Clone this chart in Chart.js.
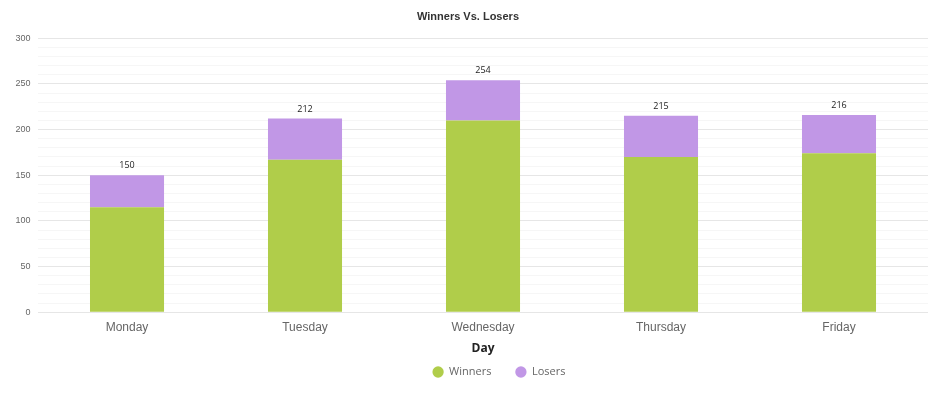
<!DOCTYPE html>
<html>
<head>
<meta charset="utf-8">
<script src="https://cdn.jsdelivr.net/npm/chart.js@4.4.1/dist/chart.umd.min.js"></script>
<style>
  html, body { margin: 0; padding: 0; background: #fff; }
  #wrap { width: 936px; height: 395px; }
</style>
</head>
<body>
<div id="wrap"><canvas id="chart" width="936" height="395"></canvas></div>
<script>
// data
const days = ['Monday', 'Tuesday', 'Wednesday', 'Thursday', 'Friday'];
const winners = [115, 167, 210, 170, 174];
const losers = [35, 45, 44, 45, 42];
const yTicks = [0, 50, 100, 150, 200, 250, 300];

// the legend in the original sits a bit right of centre
const LEGEND_SHIFT = 31;

// draws the stack total above each bar
const totalsPlugin = {
  id: 'totals',
  beforeDraw: function (chart) {
    chart.legend.left += LEGEND_SHIFT;
    chart.legend.right += LEGEND_SHIFT;
  },
  afterDatasetsDraw: function (chart) {
    const ctx = chart.ctx;
    const meta = chart.getDatasetMeta(1);
    ctx.save();
    ctx.font = '9px "Open Sans", sans-serif';
    ctx.fillStyle = '#222';
    ctx.textAlign = 'center';
    ctx.textBaseline = 'bottom';
    meta.data.forEach(function (bar, i) {
      ctx.fillText(String(winners[i] + losers[i]), bar.x, bar.y - 5);
    });
    ctx.restore();
  }
};

new Chart(document.getElementById('chart'), {
  type: 'bar',
  data: {
    labels: days,
    datasets: [
      { label: 'Winners', data: winners, backgroundColor: '#b0cd4a' },
      { label: 'Losers', data: losers, backgroundColor: '#c197e6' }
    ]
  },
  options: {
    responsive: false,
    animation: false,
    layout: { padding: { left: 8, right: 8, top: 4, bottom: 7.5 } },
    datasets: { bar: { categoryPercentage: 1, barPercentage: 0.416 } },
    plugins: {
      title: {
        display: true, text: 'Winners Vs. Losers', color: '#333',
        font: { family: 'Arial, "Liberation Sans", sans-serif', size: 11, weight: 'bold' },
        padding: { top: 6, bottom: 15 }
      },
      legend: {
        position: 'bottom',
        labels: {
          usePointStyle: true, pointStyle: 'circle', boxWidth: 11, boxHeight: 8,
          color: '#666', padding: 24,
          font: { family: '"Open Sans", sans-serif', size: 11 }
        }
      },
      tooltip: { enabled: false }
    },
    scales: {
      x: {
        stacked: true,
        grid: { display: false, drawTicks: false },
        border: { display: false },
        ticks: { color: '#666', font: { family: 'Arial, "Liberation Sans", sans-serif', size: 12 }, padding: 8 },
        title: {
          display: true, text: 'Day', color: '#222',
          font: { family: '"Open Sans", sans-serif', size: 12, weight: 'bold' },
          padding: { top: -1, bottom: -13.5 }
        }
      },
      y: {
        stacked: true,
        min: 0, max: 300,
        border: { display: false },
        grid: {
          drawTicks: false,
          color: function (c) { return yTicks.indexOf(c.tick.value) >= 0 ? '#e6e6e6' : '#f6f6f6'; }
        },
        ticks: {
          stepSize: 10, autoSkip: false, color: '#666', padding: 7.5,
          font: { family: 'Arial, "Liberation Sans", sans-serif', size: 9 },
          callback: function (v) { return yTicks.indexOf(v) >= 0 ? v : ''; }
        }
      }
    }
  },
  plugins: [totalsPlugin]
});
</script>
</body>
</html>
